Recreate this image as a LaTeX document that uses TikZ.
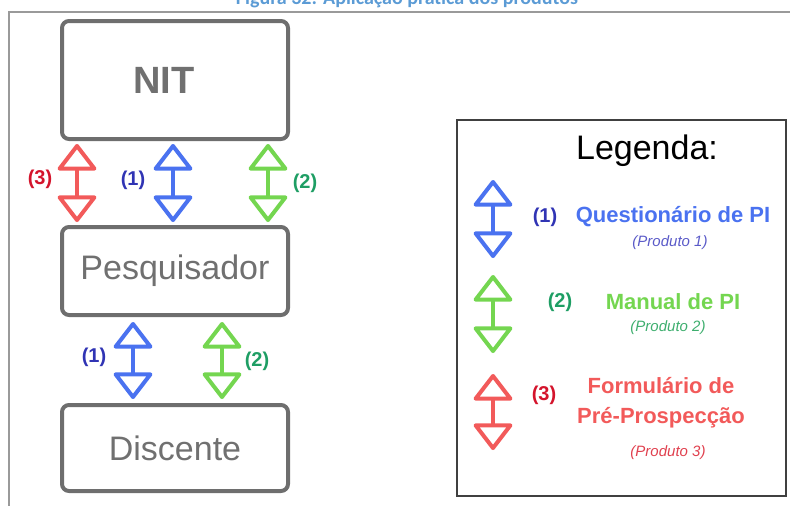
\documentclass[tikz,border=0pt]{standalone}
\usepackage{fontspec}
\setmainfont{Liberation Sans}
\newfontfamily\titlefont{Carlito}
\usetikzlibrary{arrows.meta}

\definecolor{boxgray}{HTML}{6E6E6E}
\definecolor{txtgray}{HTML}{707070}
\definecolor{framegray}{HTML}{9A9A9A}
\definecolor{arrred}{HTML}{F25A5A}
\definecolor{arrblue}{HTML}{4A72F0}
\definecolor{arrgreen}{HTML}{74D650}
\definecolor{numred}{HTML}{D4142C}
\definecolor{numblue}{HTML}{3034B4}
\definecolor{numgreen}{HTML}{1E9E64}
\definecolor{prodblue}{HTML}{5A5AC8}
\definecolor{prodgreen}{HTML}{3EAE6E}
\definecolor{prodred}{HTML}{E0404E}
\definecolor{titleblue}{HTML}{5B9BD5}

\begin{document}
\begin{tikzpicture}[x=1pt, y=-1pt]

  \tikzstyle{block} = [rectangle, rounded corners=7pt, minimum width=226pt, line width=4pt, draw=boxgray, text=txtgray, inner sep=0pt]
  \tikzstyle{num} = [font=\bfseries\fontsize{20}{24}\selectfont, inner sep=0pt]
  \tikzstyle{item} = [font=\bfseries\fontsize{22}{30}\selectfont, align=center, inner sep=0pt]
  \tikzstyle{prod} = [font=\itshape\fontsize{15}{18}\selectfont, inner sep=0pt]
  \tikzstyle{arrow} = [line width=4pt, {Triangle[open, round, length=28pt 0, width=42pt 0]}-{Triangle[open, round, length=28pt 0, width=42pt 0]}]

  \useasboundingbox (0,0) rectangle (790,506);

  % moldura e titulo
  \node (title) [font=\titlefont\bfseries\fontsize{20}{24}\selectfont, text=titleblue, anchor=base] at (407,5) {Figura 32: Aplicação prática dos produtos};
  \draw [framegray, line width=1.5pt] (9,506) -- (9,12) -- (790,12);

  % caixas
  \node (nit)  [block, minimum height=118pt, font=\bfseries\fontsize{38}{44}\selectfont] at (175,80) {\hspace*{-22pt}NIT};
  \node (pesq) [block, minimum height=88pt, font=\fontsize{34}{40}\selectfont] at (175,271) {Pesquisador};
  \node (disc) [block, minimum height=86pt, font=\fontsize{34}{40}\selectfont] at (175,448) {Discente};

  % setas NIT - Pesquisador
  \draw [arrow, arrred, shorten <=3pt, shorten >=3pt] ([xshift=-98pt]nit.south) -- ([xshift=-98pt]pesq.north);
  \draw [arrow, arrblue, shorten <=3pt, shorten >=3pt] ([xshift=-2pt]nit.south) -- ([xshift=-2pt]pesq.north);
  \draw [arrow, arrgreen, shorten <=3pt, shorten >=3pt] ([xshift=93pt]nit.south) -- ([xshift=93pt]pesq.north);
  \node (n3a) [num, text=numred] at (40,179) {(3)};
  \node (n1a) [num, text=numblue] at (133,180) {(1)};
  \node (n2a) [num, text=numgreen] at (305,183) {(2)};

  % setas Pesquisador - Discente
  \draw [arrow, arrblue, shorten <=5pt, shorten >=4pt] ([xshift=-42pt]pesq.south) -- ([xshift=-42pt]disc.north);
  \draw [arrow, arrgreen, shorten <=5pt, shorten >=4pt] ([xshift=47pt]pesq.south) -- ([xshift=47pt]disc.north);
  \node (n1b) [num, text=numblue] at (94,357) {(1)};
  \node (n2b) [num, text=numgreen] at (257,361) {(2)};

  % legenda
  \node (legend) [rectangle, draw=black!75, line width=2pt, minimum width=329pt, minimum height=376pt] at (621.5,308) {};
  \node (legtitle) [font=\fontsize{34}{40}\selectfont, inner sep=0pt] at (647,151) {Legenda:};

  \coordinate (l1top) at (493,180);
  \coordinate (l1bot) at (493,258);
  \coordinate (l2top) at (493,275);
  \coordinate (l2bot) at (493,353);
  \coordinate (l3top) at (493,374);
  \coordinate (l3bot) at (493,450);
  \draw [arrow, arrblue] (l1top) -- (l1bot);
  \draw [arrow, arrgreen] (l2top) -- (l2bot);
  \draw [arrow, arrred] (l3top) -- (l3bot);

  \node (k1) [num, text=numblue] at (545,217) {(1)};
  \node (q1) [item, text=arrblue] at (673,217) {Questionário de PI};
  \node (p1) [prod, text=prodblue] at (670,243) {(Produto 1)};

  \node (k2) [num, text=numgreen] at (560,302) {(2)};
  \node (q2) [item, text=arrgreen] at (673,302) {Manual de PI};
  \node (p2) [prod, text=prodgreen] at (668,328) {(Produto 2)};

  \node (k3) [num, text=numred] at (544,395) {(3)};
  \node (q3) [item, text=arrred] at (661,403) {Formulário de\\Pré-Prospecção};
  \node (p3) [prod, text=prodred] at (668,453) {(Produto 3)};

\end{tikzpicture}
\end{document}
